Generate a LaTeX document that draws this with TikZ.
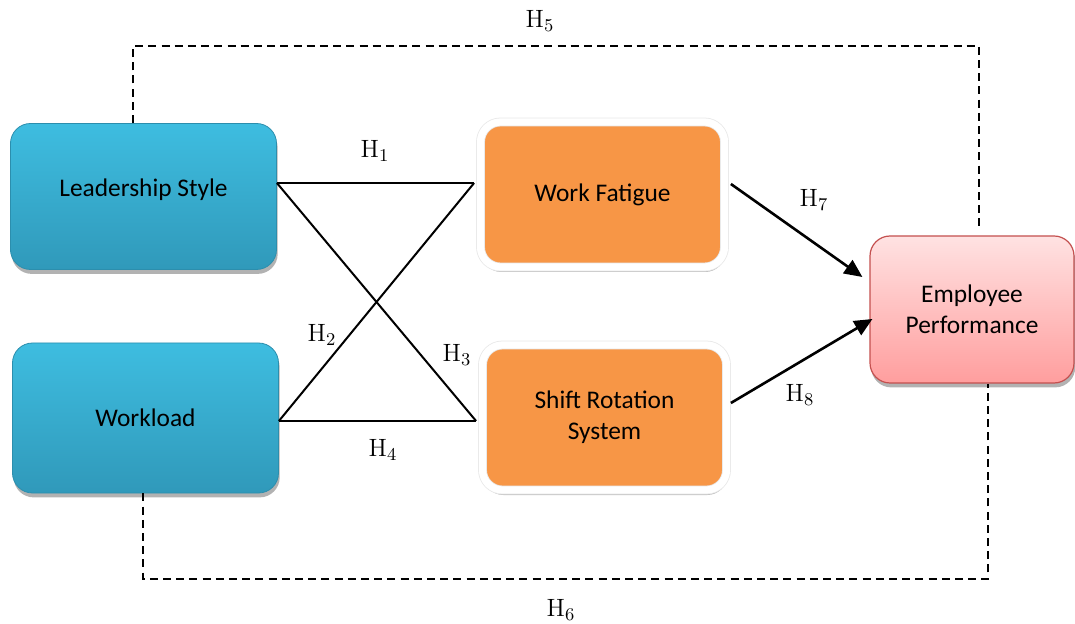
\documentclass[tikz,border=0pt]{standalone}
\usepackage{fontspec}
\newfontfamily\boxfont{Carlito}
\usetikzlibrary{shadows,arrows.meta}
\definecolor{bluetop}{HTML}{3EBDE0}
\definecolor{bluebot}{HTML}{3099BA}
\definecolor{blueedge}{HTML}{2C8EAD}
\definecolor{fatigue}{HTML}{F79646}
\definecolor{pinktop}{HTML}{FFE2E2}
\definecolor{pinkbot}{HTML}{FF9E9E}
\definecolor{pinkedge}{HTML}{C4504F}
\tikzset{
  boxtext/.style={font=\boxfont\fontsize{12.7}{15.5}\selectfont, align=center, text=black},
  bluebox/.style={boxtext, rounded corners=10pt, top color=bluetop, bottom color=bluebot,
    draw=blueedge, line width=0.4pt,
    drop shadow={shadow xshift=0.6pt, shadow yshift=-2.2pt, opacity=0.3, fill=black}},
  orangebox/.style={boxtext, rounded corners=10pt, fill=fatigue, draw=black!9, line width=0.4pt,
    double=white, double distance=3.6pt,
    drop shadow={shadow xshift=0.4pt, shadow yshift=-2.5pt, opacity=0.25, fill=black}},
  pinkbox/.style={boxtext, rounded corners=10pt, top color=pinktop, bottom color=pinkbot,
    draw=pinkedge, line width=0.6pt,
    drop shadow={shadow xshift=0.6pt, shadow yshift=-2.2pt, opacity=0.3, fill=black}},
  link/.style={line width=1pt, black},
  effect/.style={line width=1.3pt, black, -{Triangle[length=9pt,width=8pt]}},
  longlink/.style={line width=0.9pt, black, dash pattern=on 4pt off 2.6pt},
  hyp/.style={font=\fontsize{12.5}{15}\selectfont, inner sep=0pt}
}
\begin{document}
\begin{tikzpicture}[x=0.5pt, y=-0.5pt]
\useasboundingbox (0,0) rectangle (1075,624);

% construct boxes
\node[bluebox, minimum width=133pt, minimum height=73pt, text depth=9pt] (ls) at (143.5,196.5) {Leadership Style};
\node[bluebox, minimum width=133pt, minimum height=75pt] (wl) at (145.5,418) {Workload};

% mediators
\node[orangebox, minimum width=122pt, minimum height=72.5pt] (wf) at (602.5,194.5) {Work Fatigue};
\node[orangebox, minimum width=122pt, minimum height=72.5pt] (sr) at (604.5,417.5) {Shift Rotation\\System};

% outcome
\node[pinkbox, minimum width=102pt, minimum height=73.5pt] (ep) at (972,309.5) {Employee\\Performance};

% direct links to the mediators
\draw[link] ([yshift=6.75pt]ls.east) -- ([xshift=-3pt,yshift=5.75pt]wf.west);
\draw[link] ([yshift=6.75pt]ls.east) -- ([xshift=-3pt,yshift=-1.75pt]sr.west);
\draw[link] ([yshift=-1.5pt]wl.east) -- ([xshift=-3pt,yshift=5.75pt]wf.west);
\draw[link] ([yshift=-1.5pt]wl.east) -- ([xshift=-3pt,yshift=-1.75pt]sr.west);

% mediators to performance
\draw[effect] ([xshift=3pt,yshift=5.25pt]wf.east) -- ([xshift=-3.5pt,yshift=16.25pt]ep.west);
\draw[effect] ([xshift=2pt,yshift=7.25pt]sr.east) -- ([xshift=1.5pt,yshift=-4.75pt]ep.west);

% long-range dashed links
\coordinate (h5corner) at (979,46);
\coordinate (h6corner) at (988,579);
\draw[longlink] ([xshift=-5.25pt]ls.north) |- (h5corner) -- ([xshift=3.5pt,yshift=4.5pt]ep.north);
\draw[longlink] ([xshift=-1.25pt]wl.south) |- (h6corner) -- ([xshift=8pt]ep.south);

% hypothesis labels
\node[hyp] (h1) at (375,151) {H$_1$};
\node[hyp] (h2) at (322,335) {H$_2$};
\node[hyp] (h3) at (457,355) {H$_3$};
\node[hyp] (h4) at (383,450) {H$_4$};
\node[hyp] (h5) at (540,21) {H$_5$};
\node[hyp] (h6) at (561,610) {H$_6$};
\node[hyp] (h7) at (814,200) {H$_7$};
\node[hyp] (h8) at (800,395) {H$_8$};
\end{tikzpicture}
\end{document}
